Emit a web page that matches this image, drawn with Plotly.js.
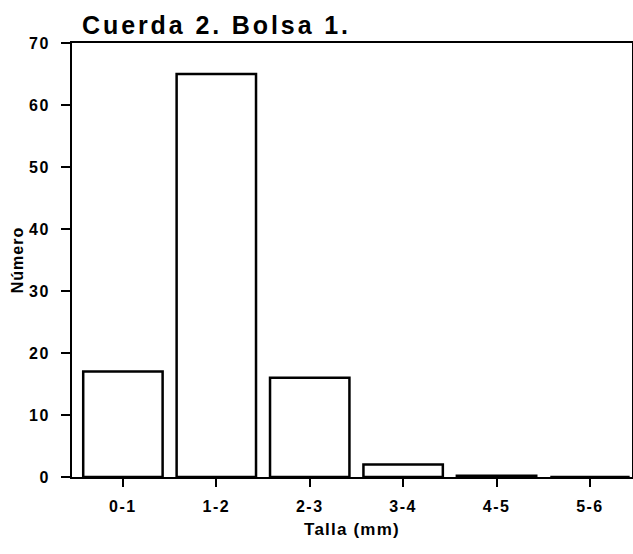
<!DOCTYPE html>
<html>
<head>
<meta charset="utf-8">
<script src="https://cdn.plot.ly/plotly-3.0.1.min.js"></script>
<style>
  html, body { margin: 0; padding: 0; background: #fff; }
  #chart { width: 633px; height: 554px; }
  .gtitle { letter-spacing: 2.9px; }
  .xtick text, .ytick text { letter-spacing: 1.5px; }
  .xtitle { letter-spacing: 1.2px; }
  .ytitle { letter-spacing: 1px; }
</style>
</head>
<body>
<div id="chart"></div>
<script>
const categories = ["0-1", "1-2", "2-3", "3-4", "4-5", "5-6"];
const counts = [17, 65, 16, 2, 0.2, 0];
const yTicks = [0, 10, 20, 30, 40, 50, 60, 70];

const font = "Liberation Sans, Arial, sans-serif";

const trace = {
  type: "bar",
  x: categories,
  y: counts,
  marker: { color: "#ffffff", line: { color: "#000000", width: 2.5 } },
  hoverinfo: "x+y"
};

const layout = {
  width: 633,
  height: 554,
  paper_bgcolor: "#ffffff",
  plot_bgcolor: "#ffffff",
  margin: { l: 72, r: 1, t: 43, b: 77 },
  bargap: 0.15,
  showlegend: false,
  title: {
    text: "Cuerda 2. Bolsa 1.",
    font: { family: font, size: 25, color: "#000", weight: "bold" },
    x: 10 / 560, xanchor: "left", xref: "paper",
    y: 1 - 25 / 554, yanchor: "middle"
  },
  xaxis: {
    type: "category",
    range: [-0.545, 5.45],
    showline: true, linecolor: "#000", linewidth: 2, mirror: true,
    ticks: "outside", ticklen: 8, tickwidth: 2, tickcolor: "#000",
    showgrid: false, zeroline: false,
    tickfont: { family: font, size: 16, color: "#000", weight: "bold" },
    ticklabelstandoff: 6,
    title: { text: "Talla (mm)", font: { family: font, size: 17, color: "#000", weight: "bold" }, standoff: 9 }
  },
  yaxis: {
    range: [0, 70],
    tickvals: yTicks,
    showline: true, linecolor: "#000", linewidth: 2, mirror: true,
    ticks: "outside", ticklen: 9, tickwidth: 2, tickcolor: "#000",
    showgrid: false, zeroline: false,
    tickfont: { family: font, size: 16, color: "#000", weight: "bold" },
    ticklabelstandoff: 8,
    title: { text: "Número", font: { family: font, size: 16, color: "#000", weight: "bold" }, standoff: 1 }
  }
};

Plotly.newPlot("chart", [trace], layout, { displayModeBar: false, staticPlot: true });
</script>
</body>
</html>
